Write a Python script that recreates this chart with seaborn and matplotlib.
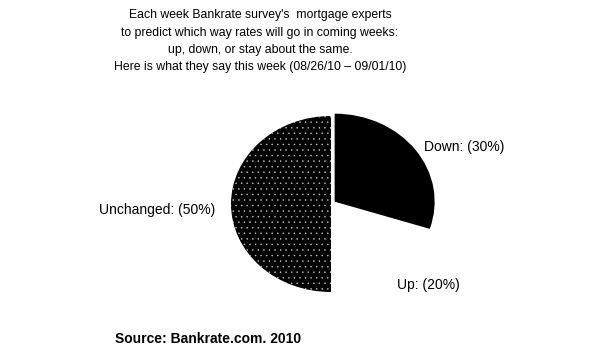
import matplotlib
matplotlib.use("Agg")
import matplotlib.pyplot as plt
import seaborn as sns

sns.set_theme(style="white")
plt.rcParams["font.family"] = ["Liberation Sans", "DejaVu Sans"]
plt.rcParams["hatch.linewidth"] = 0.3

# Survey results for the week
categories = ["Down", "Up", "Unchanged"]
shares = [30, 20, 50]

title_lines = [
    "Each week Bankrate survey's  mortgage experts",
    "to predict which way rates will go in coming weeks:",
    "up, down, or stay about the same.",
    "Here is what they say this week (08/26/10 \u2013 09/01/10)",
]
source_text = "Source: Bankrate.com. 2010"

W, H = 609, 346
fig = plt.figure(figsize=(W / 100, H / 100), dpi=100)
fig.patch.set_facecolor("white")

# pie centred at (331, 204) px, radius ~100 px wide, ~88 px tall
cx, cy, rx, ry = 331, 204, 100, 88
lim = 1.2
ax = fig.add_axes([(cx - lim * rx) / W, (H - cy - lim * ry) / H,
                   2 * lim * rx / W, 2 * lim * ry / H])

wedges, _ = ax.pie(
    shares,
    startangle=90,
    counterclock=False,
    explode=[0.045, 0, 0],
    colors=["black", "white", "black"],
    wedgeprops=dict(linewidth=0),
)
ax.set_aspect("auto")
ax.set_xlim(-lim, lim)
ax.set_ylim(-lim, lim)
ax.axis("off")

# speckled fill for the "Unchanged" slice
wedges[2].set_hatch("...")
wedges[2].set_edgecolor("#cccccc")
wedges[2].set_linewidth(0)

label_pos = {
    "Down": (1.33, 0.65),
    "Up": (0.97, -0.92),
    "Unchanged": (-1.74, -0.07),
}
for cat, val in zip(categories, shares):
    x, y = label_pos[cat]
    ax.text(x, y, f"{cat}: ({val}%)", ha="center", va="center",
            fontsize=10, color="black")

title_y = [15, 33, 50, 67]
for line, y in zip(title_lines, title_y):
    fig.text(260 / W, 1 - y / H, line, ha="center", va="center",
             fontsize=8.8, color="black")

fig.text(115 / W, 1 - 339 / H, source_text, ha="left", va="center",
         fontsize=10, fontweight="bold", color="black")

fig.savefig("out.png", dpi=100, facecolor="white")
